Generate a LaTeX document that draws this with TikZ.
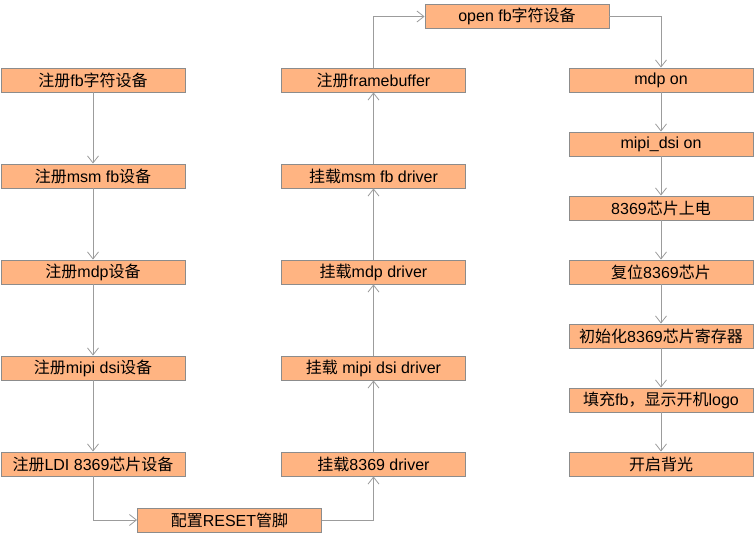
\documentclass[tikz,border=0pt]{standalone}
\usepackage{fontspec}
\setmainfont{Liberation Sans}
\newfontfamily\cjk{Noto Sans CJK SC}
\newcommand\zh[1]{{\cjk #1}}
\usetikzlibrary{arrows.meta}
\definecolor{boxfill}{HTML}{FFB482}
\definecolor{boxline}{HTML}{8C8C8C}
\definecolor{arrline}{HTML}{9C9C9C}
\begin{document}
\begin{tikzpicture}[x=1pt,y=-1pt,
  stepbox/.style={draw=boxline,fill=boxfill,line width=0.9pt,minimum width=184pt,minimum height=24pt,inner sep=0pt,font=\fontsize{16}{18}\selectfont},
  conn/.style={draw=arrline,line width=0.8pt,-{Straight Barb[length=7pt,width=11pt,line width=0.8pt]}}]
\useasboundingbox (0,0) rectangle (755,534);
% left column
\node[stepbox] (l1) at (93,80) {\zh{注册}fb\zh{字符设备}};
\node[stepbox] (l2) at (93,176) {\zh{注册}msm fb\zh{设备}};
\node[stepbox] (l3) at (93,272) {\zh{注册}mdp\zh{设备}};
\node[stepbox] (l4) at (93,368) {\zh{注册}mipi dsi\zh{设备}};
\node[stepbox] (l5) at (93,464) {\zh{注册}LDI 8369\zh{芯片设备}};
\node[stepbox] (rst) at (229.5,520) {\zh{配置}RESET\zh{管脚}};
% middle column
\node[stepbox] (m5) at (373.5,464) {\zh{挂载}8369 driver};
\node[stepbox] (m4) at (373.5,368) {\zh{挂载} mipi dsi driver};
\node[stepbox] (m3) at (373.5,272) {\zh{挂载}mdp driver};
\node[stepbox] (m2) at (373.5,176) {\zh{挂载}msm fb driver};
\node[stepbox] (m1) at (373.5,80) {\zh{注册}framebuffer};
\node[stepbox] (open) at (517,16.5) {open fb\zh{字符设备}};
% right column
\node[stepbox] (r1) at (661,80) {mdp on};
\node[stepbox] (r2) at (661,144) {mipi\_dsi on};
\node[stepbox] (r3) at (661,208) {8369\zh{芯片上电}};
\node[stepbox] (r4) at (661,272) {\zh{复位}8369\zh{芯片}};
\node[stepbox] (r5) at (661,336) {\zh{初始化}8369\zh{芯片寄存器}};
\node[stepbox] (r6) at (661,400) {\zh{填充}fb\zh{，显示开机}logo};
\node[stepbox] (r7) at (661,464) {\zh{开启背光}};
% connectors
\draw[conn] (l1) -- (l2);
\draw[conn] (l2) -- (l3);
\draw[conn] (l3) -- (l4);
\draw[conn] (l4) -- (l5);
\draw[conn] (l5.south) |- (rst.west);
\draw[conn] (rst.east) -| (m5.south);
\draw[conn] (m5) -- (m4);
\draw[conn] (m4) -- (m3);
\draw[conn] (m3) -- (m2);
\draw[conn] (m2) -- (m1);
\draw[conn] (m1.north) |- (open.west);
\draw[conn] (open.east) -| (r1.north);
\draw[conn] (r1) -- (r2);
\draw[conn] (r2) -- (r3);
\draw[conn] (r3) -- (r4);
\draw[conn] (r4) -- (r5);
\draw[conn] (r5) -- (r6);
\draw[conn] (r6) -- (r7);
\end{tikzpicture}
\end{document}
